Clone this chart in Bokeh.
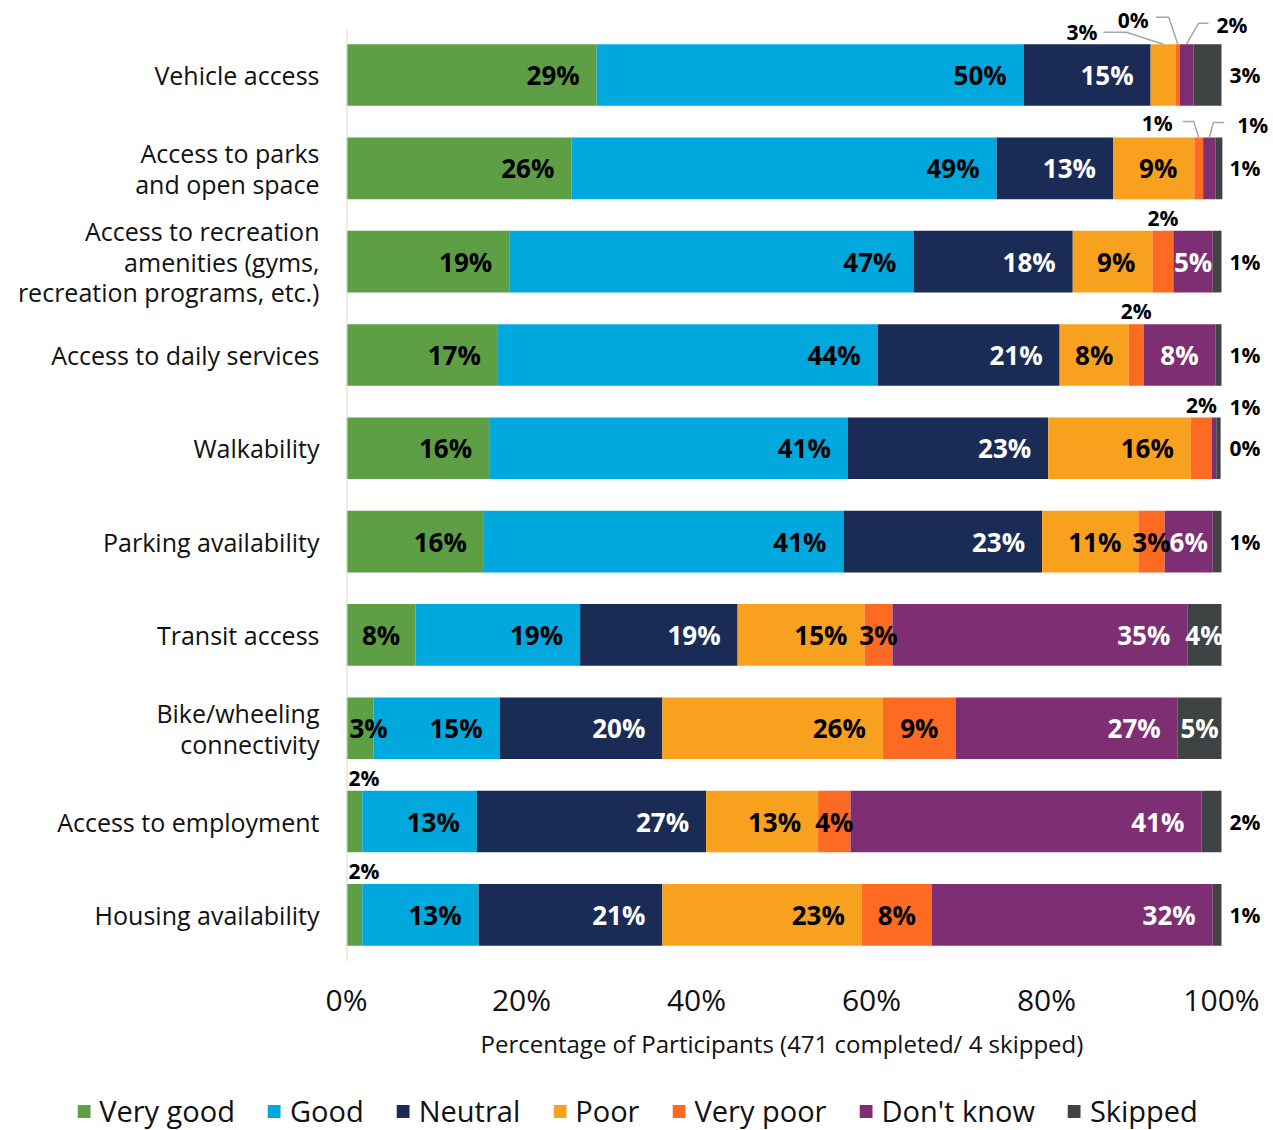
from bokeh.plotting import figure
from bokeh.models import ColumnDataSource, Range1d, FixedTicker, LabelSet
from bokeh.core.properties import value
from bokeh.embed import file_html
from bokeh.resources import INLINE

# ---------------- data ----------------
categories = [
    "Vehicle access",
    "Access to parks\nand open space",
    "Access to recreation\namenities (gyms,\nrecreation programs, etc.)",
    "Access to daily services",
    "Walkability",
    "Parking availability",
    "Transit access",
    "Bike/wheeling\nconnectivity",
    "Access to employment",
    "Housing availability",
]
series = ["Very good", "Good", "Neutral", "Poor", "Very poor", "Don't know", "Skipped"]

# segment widths (% of participants)
very_good = [28.6, 25.7, 18.6, 17.3, 16.3, 15.7, 7.9, 3.1, 1.8, 1.8]
good      = [48.8, 48.6, 46.2, 43.4, 41.0, 41.1, 18.8, 14.4, 13.1, 13.3]
neutral   = [14.5, 13.3, 18.2, 20.8, 22.9, 22.7, 18.0, 18.6, 26.2, 21.0]
poor      = [2.9, 9.3, 9.1, 7.9, 16.3, 11.0, 14.5, 25.2, 12.8, 22.8]
very_poor = [0.4, 1.0, 2.4, 1.7, 2.4, 3.0, 3.2, 8.3, 3.7, 8.0]
dont_know = [1.6, 1.4, 4.5, 8.2, 0.5, 5.5, 33.7, 25.4, 40.1, 32.1]
skipped   = [3.2, 0.8, 1.0, 0.7, 0.5, 1.0, 3.9, 5.0, 2.3, 1.0]

# printed data labels
lbl_very_good = [29, 26, 19, 17, 16, 16, 8, 3, 2, 2]
lbl_good      = [50, 49, 47, 44, 41, 41, 19, 15, 13, 13]
lbl_neutral   = [15, 13, 18, 21, 23, 23, 19, 20, 27, 21]
lbl_poor      = [3, 9, 9, 8, 16, 11, 15, 26, 13, 23]
lbl_very_poor = [0, 1, 2, 2, 2, 3, 3, 9, 4, 8]
lbl_dont_know = [2, 1, 5, 8, 1, 6, 35, 27, 41, 32]
lbl_skipped   = [3, 1, 1, 1, 0, 1, 4, 5, 2, 1]

x_ticks = [0, 20, 40, 60, 80, 100]
x_tick_labels = ["0%", "20%", "40%", "60%", "80%", "100%"]
x_title = "Percentage of Participants (471 completed/ 4 skipped)"

# ---------------- style / layout ----------------
colors = ["#5e9e44", "#00a8de", "#1a2c55", "#f8a11f", "#fd6a21", "#7e2e72", "#3f4343"]
text_colors = ["#000000", "#000000", "#ffffff", "#000000", "#000000", "#ffffff", "#ffffff"]
FONT = "Open Sans"
W = 1273
H_MAIN, H_LEG = 1062, 68
FL, FB = 346, 97         # frame left, bottom border (px)
PX = 8.75                # px per percent
PY = 93.7                # px per row
X_END = (W - FL) / PX    # frame runs to the right edge (room for outside labels)
Y_TOP = -0.5 - 28 / PY   # room above the first bar for call-outs
BAR_H = 0.66
IN_SIZE = 26
OUT_SIZE = 21

series_vals = [very_good, good, neutral, poor, very_poor, dont_know, skipped]
series_lbls = [lbl_very_good, lbl_good, lbl_neutral, lbl_poor, lbl_very_poor, lbl_dont_know, lbl_skipped]
keys = ["s%d" % i for i in range(len(series))]

p = figure(width=W, height=H_MAIN, x_range=Range1d(0, X_END), y_range=Range1d(9.5, Y_TOP),
           output_backend="svg", toolbar_location=None,
           min_border_left=FL, min_border_right=0, min_border_top=0, min_border_bottom=FB)
p.outline_line_color = None
p.xgrid.visible = False
p.ygrid.visible = False

data = {"y": list(range(len(categories)))}
for k, v in zip(keys, series_vals):
    data[k] = v
src = ColumnDataSource(data)
p.hbar_stack(keys, y="y", height=BAR_H, color=colors, line_color=None, source=src)

# vertical category axis line (only over the bars' extent)
p.segment(x0=[0], y0=[-0.5], x1=[0], y1=[9.5], line_color="#d9d9d9", line_width=2)

# axes
p.yaxis.ticker = FixedTicker(ticks=list(range(len(categories))))
p.yaxis.major_label_overrides = {i: c for i, c in enumerate(categories)}
p.yaxis.major_tick_line_color = None
p.yaxis.minor_tick_line_color = None
p.yaxis.axis_line_color = None
p.yaxis.major_label_standoff = 21
p.yaxis.major_label_text_font = FONT
p.yaxis.major_label_text_font_size = "25px"
p.yaxis.major_label_text_color = "#111111"
p.yaxis.major_label_text_line_height = 0.9

p.xaxis.ticker = FixedTicker(ticks=x_ticks)
p.xaxis.major_label_overrides = {t: l for t, l in zip(x_ticks, x_tick_labels)}
p.xaxis.major_tick_line_color = None
p.xaxis.minor_tick_line_color = None
p.xaxis.axis_line_color = None
p.xaxis.major_label_standoff = 11
p.xaxis.major_label_text_font = FONT
p.xaxis.major_label_text_font_size = "30px"
p.xaxis.major_label_text_color = "#111111"
# the frame extends right of 100% for the outside labels; pad the title so it
# stays centred under the 0-100% span
p.xaxis.axis_label = x_title + "\u00a0" * 9
p.xaxis.axis_label_standoff = 4
p.xaxis.axis_label_text_font = FONT
p.xaxis.axis_label_text_font_size = "24px"
p.xaxis.axis_label_text_font_style = "normal"
p.xaxis.axis_label_text_color = "#111111"

# ---------------- data labels ----------------
above = {(2, 4), (3, 4), (4, 4), (8, 0), (9, 0)}
right_side = {(r, 6): 0 for r in range(10) if r not in (6, 7)}
right_side[(4, 5)] = -41
callouts = {
    (0, 3): ([(-60, -12), (-37, -12), (0, 0)], (-66, -12), "right"),
    (0, 4): ([(-22, -27), (-9, -27), (0, 0)], (-29, -24), "right"),
    (0, 5): ([(22, -21), (12, -21), (0, 0)], (30, -19), "left"),
    (1, 4): ([(-16, -16), (-5, -16), (0, 0)], (-26, -15), "right"),
    (1, 5): ([(15, -15), (4, -15), (0, 0)], (28, -13), "left"),
}

groups = {}
lead_xs, lead_ys = [], []


def add(x, y, text, align, color, size):
    g = groups.setdefault((align, color, size), {"x": [], "y": [], "text": []})
    g["x"].append(x)
    g["y"].append(y)
    g["text"].append(text)


def est_width(text, size):
    return (0.58 * (len(text) - 1) + 0.88) * size


for r in range(len(categories)):
    cum = 0.0
    for s in range(len(series)):
        w = series_vals[s][r]
        left, right = cum, cum + w
        cum = right
        mid = (left + right) / 2
        txt = "%d%%" % series_lbls[s][r]
        top = r - BAR_H / 2
        if (r, s) in callouts:
            pts, (lx, ly), align = callouts[(r, s)]
            lead_xs.append([mid + dx / PX for dx, dy in pts])
            lead_ys.append([top + dy / PY for dx, dy in pts])
            add(mid + lx / PX, top + ly / PY, txt, align, "#000000", OUT_SIZE)
        elif (r, s) in above:
            yy = top - 13 / PY
            if left == 0:
                add(left + 2 / PX, yy, txt, "left", "#000000", OUT_SIZE)
            else:
                add(mid, yy, txt, "center", "#000000", OUT_SIZE)
        elif (r, s) in right_side:
            add(100 + 8 / PX, r + right_side[(r, s)] / PY, txt, "left", "#000000", OUT_SIZE)
        else:
            seg_px = w * PX
            lw = est_width(txt, IN_SIZE)
            if seg_px >= lw + 34:
                add(right - 17 / PX, r, txt, "right", text_colors[s], IN_SIZE)
            elif left == 0 and seg_px < lw:
                add(left + 3 / PX, r, txt, "left", text_colors[s], IN_SIZE)
            else:
                add(mid, r, txt, "center", text_colors[s], IN_SIZE)

p.multi_line(xs=lead_xs, ys=lead_ys, line_color="#a6a6a6", line_width=1.5)

for (align, color, size), g in groups.items():
    p.add_layout(LabelSet(x="x", y="y", text="text", source=ColumnDataSource(g),
                          text_align=align, text_baseline="middle", text_color=color,
                          text_font=value(FONT), text_font_size="%dpx" % size,
                          text_font_style="bold"))

# ---------------- legend strip (separate root, below the chart) ----------------
pl = figure(width=W, height=H_LEG, x_range=Range1d(0, 1), y_range=Range1d(0, 1),
            output_backend="svg", toolbar_location=None,
            x_axis_location=None, y_axis_location=None, min_border=0)
pl.outline_line_color = None
pl.xgrid.visible = False
pl.ygrid.visible = False
# legend proxies: zero-width bars (nothing visible) that carry each series colour
for name, c in zip(series, colors):
    pl.hbar(y=[0.5], left=[0], right=[0], height=0.5, color=c, line_color=None,
            legend_label=name)

lg = pl.legend[0]
lg.orientation = "horizontal"
lg.location = "bottom_center"
lg.border_line_color = None
lg.background_fill_alpha = 0
lg.padding = 0
lg.margin = 0
lg.spacing = 31
lg.glyph_width = 16
lg.glyph_height = 16
lg.label_standoff = 8
lg.label_text_font = FONT
lg.label_text_font_size = "29px"
lg.label_text_color = "#111111"

open("out.html", "w").write(file_html([p, pl], INLINE))
